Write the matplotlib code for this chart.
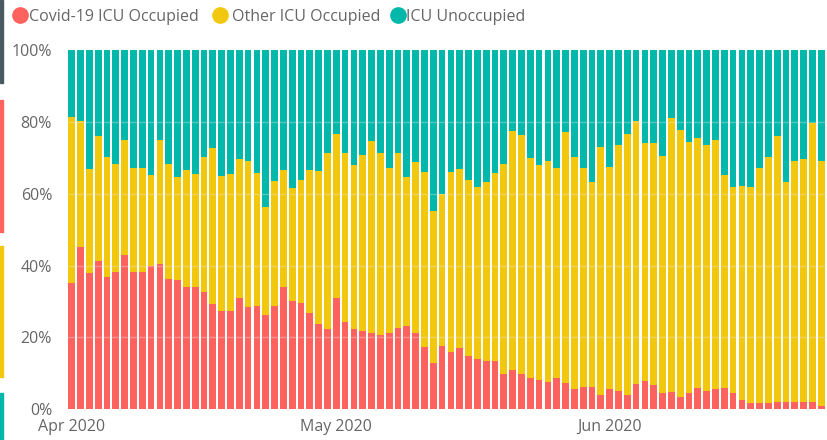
import matplotlib
matplotlib.use('Agg')
import matplotlib.pyplot as plt
from matplotlib.lines import Line2D
from matplotlib.patches import Rectangle
import numpy as np

# daily ICU bed share, 1 Apr 2020 onwards (percent of all ICU beds)
covid = [35.1, 45.3, 37.9, 41.4, 36.9, 38.2, 42.9, 38.2, 38.2, 39.8,
         40.4, 36.3, 35.9, 34.0, 34.0, 32.6, 29.4, 27.4, 27.4, 30.9,
         28.4, 28.8, 26.2, 28.8, 34.0, 30.1, 29.5, 26.8, 23.7, 22.4,
         31.0, 24.3, 22.4, 21.8, 21.3, 20.6, 21.1, 22.6, 23.3, 21.3,
         17.4, 12.8, 17.5, 15.9, 17.0, 14.8, 14.0, 13.4, 13.4, 9.7,
         11.0, 9.7, 8.7, 8.2, 7.5, 8.7, 7.2, 5.6, 6.1, 6.1,
         4.1, 5.6, 5.1, 4.0, 7.1, 7.8, 6.8, 4.6, 4.7, 3.5,
         4.6, 6.0, 5.1, 5.6, 6.0, 4.6, 2.5, 1.7, 1.7, 1.8,
         1.9, 1.9, 1.9, 1.9, 1.9, 0.8]
other = [46.3, 35.0, 29.0, 34.7, 33.2, 30.2, 32.0, 29.0, 29.0, 25.3,
         34.5, 31.9, 28.8, 32.7, 31.6, 37.6, 43.4, 37.6, 38.2, 38.8,
         40.7, 37.0, 30.0, 34.8, 32.7, 31.4, 34.3, 39.9, 42.7, 48.8,
         45.5, 47.1, 45.5, 48.9, 53.3, 50.8, 46.1, 48.8, 41.3, 47.4,
         48.7, 42.5, 42.3, 50.2, 49.9, 48.9, 48.0, 49.9, 52.3, 58.6,
         66.5, 66.7, 61.2, 59.9, 61.7, 58.5, 69.9, 64.7, 61.1, 57.2,
         68.8, 61.8, 68.4, 72.5, 73.2, 66.2, 67.2, 66.0, 76.3, 74.1,
         69.8, 69.5, 68.5, 69.4, 59.1, 57.4, 59.6, 60.2, 65.5, 68.5,
         74.2, 61.3, 67.2, 67.8, 77.7, 68.2]
unoccupied = [18.6, 19.7, 33.1, 23.9, 29.9, 31.6, 25.1, 32.8, 32.8, 34.9,
              25.1, 31.8, 35.3, 33.3, 34.4, 29.8, 27.2, 35.0, 34.4, 30.3,
              30.9, 34.2, 43.8, 36.4, 33.3, 38.5, 36.2, 33.3, 33.6, 28.8,
              23.5, 28.6, 32.1, 29.3, 25.4, 28.6, 32.8, 28.6, 35.4, 31.3,
              33.9, 44.7, 40.2, 33.9, 33.1, 36.3, 38.0, 36.7, 34.3, 31.7,
              22.5, 23.6, 30.1, 31.9, 30.8, 32.8, 22.9, 29.7, 32.8, 36.7,
              27.1, 32.6, 26.5, 23.5, 19.7, 26.0, 26.0, 29.4, 19.0, 22.4,
              25.6, 24.5, 26.4, 25.0, 34.9, 38.0, 37.9, 38.1, 32.8, 29.7,
              23.9, 36.8, 30.9, 30.3, 20.4, 31.0]

series = ['Covid-19 ICU Occupied', 'Other ICU Occupied', 'ICU Unoccupied']
colors = ['#FD625E', '#F2C80F', '#01B8AA']
month_pos = [0, 30, 61]
month_labels = ['Apr 2020', 'May 2020', 'Jun 2020']
y_ticks = [0, 20, 40, 60, 80, 100]

plt.rcParams['font.family'] = ['Open Sans', 'DejaVu Sans']
text_col = '#666666'

W, H = 827, 440
fig = plt.figure(figsize=(W / 100, H / 100), dpi=100)
ax = fig.add_axes([67.3 / W, 1 - 409.3 / H, (W - 67.3) / W, (409.3 - 50) / H])

x = np.arange(len(covid))
bottom = np.zeros(len(x))
for vals, col in zip([covid, other, unoccupied], colors):
    ax.bar(x, vals, width=0.76, bottom=bottom, color=col, linewidth=0)
    bottom += np.array(vals)

for v in y_ticks[1:-1]:
    ax.axhline(v, color='#e8e8e8', alpha=0.35, lw=1, zorder=3)

ax.set_xlim(-0.5, 85.65)
ax.set_ylim(0, 100)
ax.set_yticks(y_ticks)
ax.set_yticklabels([f'{v}%' for v in y_ticks])
ax.set_xticks(month_pos)
ax.set_xticklabels(month_labels)
ax.tick_params(axis='y', length=0, pad=11, labelsize=11.5, labelcolor=text_col)
ax.tick_params(axis='x', length=0, pad=7, labelsize=11.5, labelcolor=text_col)
for s in ax.spines.values():
    s.set_visible(False)

# legend row
legend_x = [(19.5, 29), (220, 232), (398, 406)]
for (cx, tx), name, col in zip(legend_x, series, colors):
    fig.add_artist(Line2D([cx / W], [1 - 15 / H], marker='o', markersize=11,
                          color=col, transform=fig.transFigure))
    fig.text(tx / W, 1 - 20.7 / H, name, color=text_col, fontsize=11.5,
             va='baseline', ha='left')

# coloured edge strips on the far left
strips = [(0, 83, '#4a5a60'), (100, 232, colors[0]), (246, 377, colors[1]),
          (393, 440, colors[2])]
for y0, y1, col in strips:
    fig.patches.append(Rectangle((0, 1 - y1 / H), 3 / W, (y1 - y0) / H,
                                 color=col, transform=fig.transFigure))

fig.savefig('out.png', dpi=100)
